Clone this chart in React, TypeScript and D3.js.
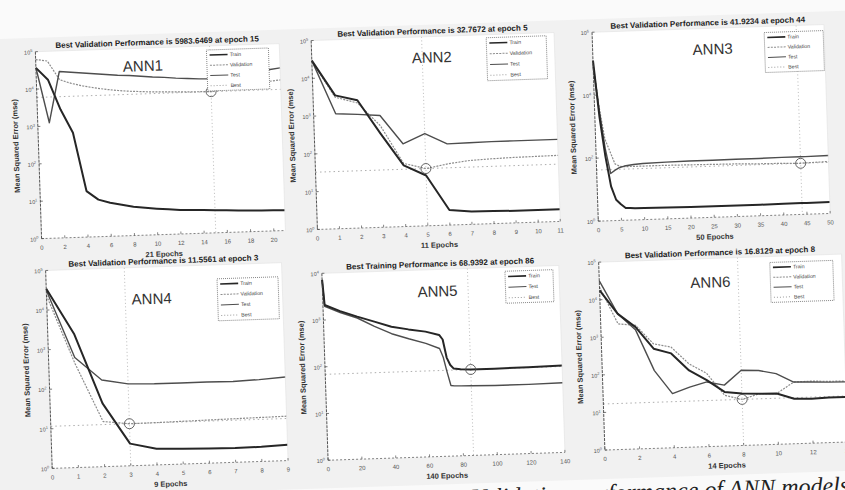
import React from "react";
import * as d3 from "d3";

// ---- ANN1 ----
const ann1Epochs = [0, 1, 2, 3, 4, 5, 6, 7, 8, 9, 10, 11, 12, 13, 14, 15, 16, 17, 18, 19, 20, 21];
const ann1Train = [37000, 17400, 2700, 630, 17, 9.8, 7.9, 6.8, 5.9, 5.4, 5.0, 4.7, 4.4, 4.3, 4.2, 4.0, 3.9, 3.8, 3.7, 3.6, 3.55, 3.5];
const ann1Validation = [61700, 55000, 17000, 13200, 11000, 9550, 8500, 7760, 7240, 6920, 6610, 6460, 6310, 6170, 6100, 5983.6469, 6610, 7410, 8320, 9120, 10000, 10700];
const ann1Test = [37150, 1230, 28180, 26300, 24550, 22900, 21380, 19950, 19050, 17780, 16600, 15850, 14790, 14130, 13490, 13180, 14130, 15490, 16980, 18620, 20420, 22390];

// ---- ANN2 ----
const ann2Epochs = [0, 1, 2, 3, 4, 5, 6, 7, 8, 9, 10, 11];
const ann2Train = [29500, 3390, 2400, 302, 41.7, 21.4, 2.5, 2.2, 2.14, 2.09, 2.09, 2.09];
const ann2Validation = [28200, 3020, 2040, 490, 46.8, 32.7672, 41.7, 49, 52, 54, 55, 56];
const ann2Test = [29500, 1100, 1020, 912, 155, 275, 141, 145, 148, 148, 148, 148];

// ---- ANN3 ----
const ann3Epochs = [0, 1, 2, 3, 4, 5, 6, 7, 8, 10, 15, 20, 25, 30, 35, 40, 44, 45, 50];
const ann3Train = [125900, 1995, 110, 12.3, 4.57, 3.24, 2.45, 2.4, 2.34, 2.34, 2.29, 2.24, 2.24, 2.24, 2.24, 2.29, 2.29, 2.29, 2.29];
const ann3Validation = [100000, 3980, 398, 158, 63.1, 52.5, 50.1, 50.1, 50.1, 50.1, 50.1, 49, 47.9, 46.8, 44.7, 43.7, 41.9234, 42.7, 44.7];
const ann3Test = [79400, 3160, 200, 31.6, 39.8, 47.9, 52.5, 55, 57.5, 60.3, 63.1, 64.6, 64.6, 66.1, 66.1, 67.6, 67.6, 67.6, 69.2];

// ---- ANN4 ----
const ann4Epochs = [0, 1, 2, 3, 4, 5, 6, 7, 8, 9];
const ann4Train = [34700, 2400, 39.8, 3.63, 2.57, 2.45, 2.34, 2.29, 2.34, 2.51];
const ann4Validation = [23400, 427, 13.8, 11.5561, 11.7, 12.0, 12.3, 12.6, 12.9, 13.2];
const ann4Test = [31600, 603, 155, 117, 112, 112, 112, 110, 117, 129];

// ---- ANN5 ----
const ann5Epochs = [0, 1, 10, 20, 30, 40, 50, 60, 68, 70, 72, 74, 76, 80, 86, 100, 120, 140];
const ann5Train = [7240, 2090, 1510, 1120, 851, 646, 550, 479, 398, 316, 129, 89, 74.1, 70.8, 68.9392, 69.2, 70, 72.4];
const ann5Test = [7240, 1950, 1410, 1047, 676, 457, 347, 269, 204, 132, 63, 32.4, 31.6, 31.3, 30.9, 30.2, 30.2, 30.9];

// ---- ANN6 ----
const ann6Epochs = [0, 1, 2, 3, 4, 5, 6, 7, 8, 9, 10, 11, 12, 13, 14];
const ann6Train = [17800, 4070, 1740, 447, 324, 110, 58.9, 27.5, 24, 22.9, 22.4, 15.8, 15.1, 15.8, 15.8];
const ann6Validation = [21900, 2190, 1950, 603, 479, 166, 89.1, 22.4, 16.8129, 22.9, 22.4, 43.7, 44.7, 42.7, 41.7];
const ann6Test = [31600, 4070, 1450, 117, 27.5, 39.8, 52.5, 41.7, 100, 95.5, 75.9, 43.7, 42.7, 40.7, 39.8];

const legendNames = ["Train", "Validation", "Test", "Best"];

type Panel = {
  name: string;
  title: string;
  xLabel: string;
  epochs: number[];
  train: number[];
  validation?: number[];
  test: number[];
  bestEpoch: number;
  bestValue: number;
  xMax: number;
  xTicks: number[];
  yTopExp: number;
  yTickExps: number[];
  box: number[]; // left, top, right, bottom
  nameAt: number[];
  legend: number[]; // x, y, w, h
};

const panels: Panel[] = [
  {
    name: "ANN1", title: "Best Validation Performance is 5983.6469 at epoch 15", xLabel: "21 Epochs",
    epochs: ann1Epochs, train: ann1Train, validation: ann1Validation, test: ann1Test,
    bestEpoch: 15, bestValue: 5983.6469, xMax: 21, xTicks: [0, 2, 4, 6, 8, 10, 12, 14, 16, 18, 20],
    yTopExp: 5, yTickExps: [0, 1, 2, 3, 4, 5],
    box: [42, 39, 286, 226], nameAt: [149, 58], legend: [213, 43, 62, 41],
  },
  {
    name: "ANN2", title: "Best Validation Performance is 32.7672 at epoch 5", xLabel: "11 Epochs",
    epochs: ann2Epochs, train: ann2Train, validation: ann2Validation, test: ann2Test,
    bestEpoch: 5, bestValue: 32.7672, xMax: 11, xTicks: [0, 1, 2, 3, 4, 5, 6, 7, 8, 9, 10, 11],
    yTopExp: 5, yTickExps: [0, 1, 2, 3, 4, 5],
    box: [318, 37, 561, 226], nameAt: [438, 59], legend: [493, 40, 60, 43],
  },
  {
    name: "ANN3", title: "Best Validation Performance is 41.9234 at epoch 44", xLabel: "50 Epochs",
    epochs: ann3Epochs, train: ann3Train, validation: ann3Validation, test: ann3Test,
    bestEpoch: 44, bestValue: 41.9234, xMax: 50, xTicks: [0, 5, 10, 15, 20, 25, 30, 35, 40, 45, 50],
    yTopExp: 6, yTickExps: [0, 2, 4, 6],
    box: [599, 38, 831, 227], nameAt: [719, 60], legend: [771, 44, 59, 40],
  },
  {
    name: "ANN4", title: "Best Validation Performance is 11.5561 at epoch 3", xLabel: "9 Epochs",
    epochs: ann4Epochs, train: ann4Train, validation: ann4Validation, test: ann4Test,
    bestEpoch: 3, bestValue: 11.5561, xMax: 9, xTicks: [0, 1, 2, 3, 4, 5, 6, 7, 8, 9],
    yTopExp: 5, yTickExps: [0, 1, 2, 3, 4, 5],
    box: [45, 258, 281, 456], nameAt: [150, 291], legend: [216, 272, 61, 42],
  },
  {
    name: "ANN5", title: "Best Training Performance is 68.9392 at epoch 86", xLabel: "140 Epochs",
    epochs: ann5Epochs, train: ann5Train, test: ann5Test,
    bestEpoch: 86, bestValue: 68.9392, xMax: 140, xTicks: [0, 20, 40, 60, 80, 100, 120, 140],
    yTopExp: 4, yTickExps: [0, 1, 2, 3, 4],
    box: [321, 270, 558, 457], nameAt: [436, 293], legend: [504, 274, 48, 32],
  },
  {
    name: "ANN6", title: "Best Validation Performance is 16.8129 at epoch 8", xLabel: "14 Epochs",
    epochs: ann6Epochs, train: ann6Train, validation: ann6Validation, test: ann6Test,
    bestEpoch: 8, bestValue: 16.8129, xMax: 14, xTicks: [0, 2, 4, 6, 8, 10, 12, 14],
    yTopExp: 5, yTickExps: [0, 1, 2, 3, 4, 5],
    box: [598, 268, 841, 456], nameAt: [709, 293], legend: [769, 274, 63, 40],
  },
];

const styles: Record<string, { stroke: string; width: number; dash?: string }> = {
  Train: { stroke: "#262626", width: 2 },
  Validation: { stroke: "#8c8c8c", width: 1.2, dash: "2,1.2" },
  Test: { stroke: "#4d4d4d", width: 1.4 },
  Best: { stroke: "#9a9a9a", width: 0.8, dash: "1,2" },
};

const font = "'Liberation Sans', Arial, sans-serif";

const PerfPanel = ({ p }: { p: Panel }) => {
  const [left, top, right, bottom] = p.box;
  const x = d3.scaleLinear().domain([0, p.xMax]).range([left, right]);
  const y = d3.scaleLog().domain([1, Math.pow(10, p.yTopExp)]).range([bottom, top]);
  const line = (vals: number[]) =>
    d3.line<number>().x((_, i) => x(p.epochs[i])).y((d) => y(d))(vals) || "";
  const series = [
    { key: "Validation", vals: p.validation },
    { key: "Test", vals: p.test },
    { key: "Train", vals: p.train },
  ].filter((s) => s.vals);
  const legendKeys = p.validation ? legendNames : ["Train", "Test", "Best"];
  const [lx, ly, lw, lh] = p.legend;
  const rowH = lh / legendKeys.length;
  const midY = (top + bottom) / 2;

  return (
    <g>
      <rect x={left} y={top} width={right - left} height={bottom - top} fill="#fff" />
      <text x={(left + right) / 2} y={top - 3} textAnchor="middle" fontSize={8} fontWeight="bold" fill="#222" fontFamily={font}>
        {p.title}
      </text>
      {/* best markers */}
      <line x1={left} x2={right} y1={y(p.bestValue)} y2={y(p.bestValue)} stroke={styles.Best.stroke} strokeWidth={0.8} strokeDasharray="1.5,3" />
      <line x1={x(p.bestEpoch)} x2={x(p.bestEpoch)} y1={top} y2={bottom} stroke="#aaa" strokeWidth={0.8} strokeDasharray="1,2.5" />
      {series.map((s) => (
        <path key={s.key} d={line(s.vals as number[])} fill="none" stroke={styles[s.key].stroke}
          strokeWidth={styles[s.key].width} strokeDasharray={styles[s.key].dash} strokeLinejoin="round" />
      ))}
      <circle cx={x(p.bestEpoch)} cy={y(p.bestValue)} r={5} fill="none" stroke="#555" strokeWidth={0.9} />
      {/* axes */}
      <line x1={left} x2={left} y1={top} y2={bottom} stroke="#444" strokeWidth={0.9} strokeDasharray="3,1" />
      <line x1={left} x2={right} y1={bottom} y2={bottom} stroke="#666" strokeWidth={0.8} strokeDasharray="2,2" />
      <line x1={left} x2={right} y1={top} y2={top} stroke="#e2e2e2" strokeWidth={0.6} />
      <line x1={right} x2={right} y1={top} y2={bottom} stroke="#e2e2e2" strokeWidth={0.6} />
      {p.yTickExps.map((e) => (
        <g key={"y" + e}>
          <line x1={left} x2={left + 2.5} y1={y(Math.pow(10, e))} y2={y(Math.pow(10, e))} stroke="#444" strokeWidth={0.7} />
          <text x={left - 3} y={y(Math.pow(10, e)) + 2.5} textAnchor="end" fontSize={5.5} fill="#555" fontFamily={font}>
            10<tspan dy={-2.5} fontSize={4}>{e}</tspan>
          </text>
        </g>
      ))}
      {p.xTicks.map((t) => (
        <g key={"x" + t}>
          <line x1={x(t)} x2={x(t)} y1={bottom} y2={bottom - 2.5} stroke="#555" strokeWidth={0.7} />
          <text x={x(t)} y={bottom + 11} textAnchor="middle" fontSize={6} fill="#555" fontFamily={font}>{t}</text>
        </g>
      ))}
      <text x={(left + right) / 2} y={bottom + 22} textAnchor="middle" fontSize={7.5} fontWeight="bold" fill="#333" fontFamily={font}>
        {p.xLabel}
      </text>
      <text transform={`translate(${left - 20},${midY}) rotate(-90)`} textAnchor="middle" fontSize={7.5} fontWeight="bold" fill="#333" fontFamily={font}>
        {"Mean Squared Error  (mse)"}
      </text>
      <text x={p.nameAt[0]} y={p.nameAt[1]} textAnchor="middle" dominantBaseline="middle" fontSize={15} fill="#333" fontFamily={font}>
        {p.name}
      </text>
      {/* legend */}
      <rect x={lx} y={ly} width={lw} height={lh} fill="#fff" stroke="#555" strokeWidth={0.7} strokeDasharray="1,1" />
      {legendKeys.map((k, i) => {
        const cy = ly + rowH * (i + 0.5);
        return (
          <g key={k}>
            <line x1={lx + 3} x2={lx + 21} y1={cy} y2={cy} stroke={styles[k].stroke} strokeWidth={k === "Train" ? 1.6 : 1} strokeDasharray={styles[k].dash} />
            <text x={lx + 23} y={cy + 1.8} fontSize={5.2} fill="#444" fontFamily={font}>{k}</text>
          </g>
        );
      })}
    </g>
  );
};

const App = () => {
  const width = 845;
  const height = 490;
  return (
    <svg width={width} height={height} style={{ position: "absolute", left: 0, top: 0, background: "#fafafa" }}>
      <g transform={`rotate(-1.9, 422, 245)`}>
        <rect x={-20} y={25} width={885} height={460} fill="#f1f1f1" />
        {panels.map((p) => (
          <PerfPanel key={p.name} p={p} />
        ))}
        <text x={841} y={507} textAnchor="end" fontSize={24} fontStyle="italic" fill="#222" fontFamily="'Liberation Serif', 'Times New Roman', serif">
          Validation performance of ANN models
        </text>
      </g>
    </svg>
  );
};

export default App;
